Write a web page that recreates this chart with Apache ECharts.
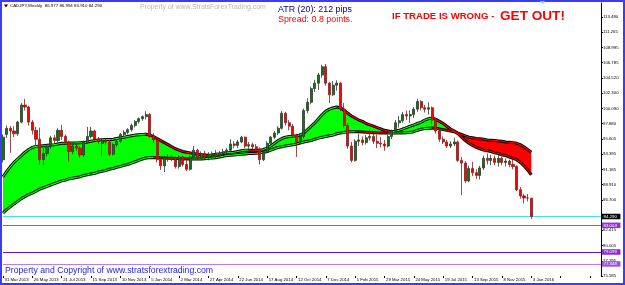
<!DOCTYPE html>
<html><head><meta charset="utf-8">
<script src="https://cdn.jsdelivr.net/npm/echarts@6/dist/echarts.min.js"></script>
<style>html,body{margin:0;padding:0;background:#fff}#c{width:625px;height:285px}</style>
</head><body><div id="c"></div>
<script>
const xTickLabels=['31 Mar 2013','26 May 2013','21 Jul 2013','15 Sep 2013','10 Nov 2013','5 Jan 2014','2 Mar 2014','27 Apr 2014','22 Jun 2014','17 Aug 2014','12 Oct 2014','7 Dec 2014','1 Feb 2015','29 Mar 2015','24 May 2015','19 Jul 2015','13 Sep 2015','8 Nov 2015','3 Jan 2016'];
const yTickLabels=['75.585','77.795','80.005','82.415','','86.700','88.910','91.185','93.395','95.605','97.880','100.090','102.300','104.520','106.785','108.995','111.265','113.480'];
const yMin=75.585, yMax=115.528, yStep=2.2291176;

const opens=[92.6,96.3,97.2,96.8,96.4,98.1,100.6,100.3,98.1,96.9,
95.6,92.6,93.5,94.6,95.8,95.4,96.9,96.0,95.1,93.8,
94.6,94.3,93.3,95.1,96.0,96.8,95.6,95.0,95.4,95.2,
93.4,94.8,95.3,96.3,96.6,97.0,97.6,98.2,98.6,98.9,
99.2,96.0,95.5,92.6,91.7,92.9,92.8,92.9,91.6,93.0,
91.9,91.2,93.0,94.0,92.9,93.5,93.0,93.3,93.4,93.2,
93.5,93.8,94.0,94.9,94.7,95.2,95.9,94.6,94.8,94.5,
94.2,92.6,93.7,95.0,95.9,96.5,97.2,99.4,98.0,97.5,
96.2,95.2,96.0,99.8,101.0,103.0,103.8,105.0,106.2,103.8,
102.1,103.5,103.8,100.0,97.6,94.6,92.5,95.3,95.5,95.1,
95.8,96.0,95.3,95.0,94.9,94.6,96.0,96.8,98.0,98.3,
99.2,99.0,99.2,100.0,101.1,100.2,100.0,100.2,98.4,96.8,
95.6,95.2,94.6,94.9,95.2,92.5,92.1,89.5,91.3,90.7,
90.3,91.4,92.8,92.5,92.8,92.2,92.8,92.2,92.4,91.9,
91.6,88.2,87.3,87.0,86.977];
const closes=[95.9,97.2,96.8,96.4,98.1,100.6,100.3,98.1,96.9,95.6,
92.6,93.5,94.6,95.8,95.4,96.9,96.0,95.1,93.8,94.6,
94.3,93.3,95.1,96.0,96.8,95.6,95.3,95.4,95.2,93.4,
94.8,95.3,96.3,96.6,97.0,97.6,98.2,98.6,98.9,99.2,
96.0,95.5,92.6,91.7,92.9,92.8,92.9,91.6,93.0,91.9,
91.2,93.0,94.0,92.9,93.5,93.0,93.3,93.4,93.2,93.5,
93.8,94.0,94.9,94.7,95.2,95.9,94.6,94.8,94.5,94.2,
92.6,93.7,95.0,95.9,96.5,97.2,99.4,98.0,97.5,96.2,
95.2,96.0,99.8,101.0,103.0,103.8,105.0,106.2,103.8,102.1,
103.5,103.8,100.0,97.6,94.6,92.5,95.3,95.5,95.1,95.8,
96.0,95.3,95.0,94.9,94.6,96.0,96.8,98.0,98.3,99.2,
99.0,99.2,100.0,101.1,100.2,100.0,100.2,98.4,96.8,95.6,
95.2,94.6,94.9,95.2,92.5,92.1,89.5,91.3,90.7,90.3,
91.4,92.8,92.5,92.8,92.2,92.8,92.2,92.4,91.9,91.6,
88.2,87.3,87.0,86.98,84.29];
const lows=[92.2,95.8,93.6,95.9,96.1,97.9,99.8,97.6,96.3,94.6,
91.9,91.8,93.1,94.2,95.0,95.1,95.5,94.9,92.3,93.4,
93.9,92.9,93.0,94.9,95.7,95.3,94.9,93.2,94.8,93.1,
93.2,94.5,95.1,96.0,96.3,96.7,97.3,97.9,98.3,98.5,
95.8,95.0,92.2,91.1,90.8,92.3,92.4,91.3,91.3,91.6,
90.9,91.0,92.8,92.6,92.7,92.7,92.5,92.9,92.8,92.9,
93.2,93.4,93.7,94.3,94.3,95.0,94.3,94.2,94.1,93.9,
91.9,92.4,93.5,94.8,95.6,96.2,97.0,97.6,96.9,95.9,
93.0,94.9,95.7,99.4,100.7,102.5,102.8,104.6,103.4,100.9,
101.9,102.7,99.7,97.3,94.2,92.2,92.3,94.6,94.7,94.8,
95.4,94.9,94.3,94.4,93.9,94.4,95.6,96.6,97.3,98.0,
98.4,98.0,98.7,99.6,99.8,99.5,99.2,97.8,96.4,95.2,
94.9,94.3,94.3,94.6,92.3,87.4,89.2,89.3,90.2,89.8,
89.7,91.1,91.9,91.8,91.8,91.6,91.8,91.6,91.5,91.2,
88.0,86.9,86.2,86.5,83.91];
const highs=[96.3,97.6,97.5,97.5,98.3,100.9,101.5,100.5,98.4,97.4,
97.3,94.3,94.9,96.1,96.2,97.2,97.7,96.3,95.4,95.0,
95.0,94.6,95.4,97.4,97.4,97.0,95.9,95.7,95.7,95.5,
95.0,95.6,96.5,96.9,97.2,97.9,98.4,98.8,99.1,99.7,
99.4,96.5,95.7,92.9,93.2,93.4,93.3,93.1,93.3,93.2,
92.5,93.2,94.6,94.2,93.8,93.9,93.7,93.8,94.0,93.9,
94.2,94.3,95.6,95.3,95.5,96.1,96.0,95.2,95.1,94.9,
94.4,94.0,95.3,96.1,96.8,97.5,99.7,99.6,98.4,97.8,
96.4,96.5,100.1,101.6,103.3,104.3,105.3,106.5,106.6,104.0,
104.1,104.2,104.0,100.9,98.0,95.2,95.6,96.4,96.0,96.2,
97.0,96.4,96.3,95.9,95.5,96.3,97.0,98.4,99.0,99.6,
99.8,99.8,100.3,101.5,101.3,100.6,101.0,100.4,98.7,97.1,
96.0,95.5,95.3,95.8,95.4,93.0,92.4,91.7,92.3,91.2,
91.7,93.2,93.5,93.3,93.2,93.3,93.0,92.8,92.6,92.7,
91.8,88.6,87.6,87.6,86.994];

const fastLine=[90.1,90.9,91.6,92.2,92.7,93.2,93.7,94.1,94.4,94.55,
94.6,94.65,94.7,94.75,94.8,94.9,95.0,95.02,95.04,95.05,
95.06,95.08,95.1,95.2,95.3,95.4,95.5,95.52,95.54,95.56,
95.6,95.7,95.8,95.9,96.0,96.1,96.2,96.25,96.3,96.32,
96.2,96.0,95.7,95.4,95.1,94.8,94.5,94.2,94.0,93.8,
93.7,93.6,93.5,93.4,93.3,93.28,93.26,93.3,93.4,93.45,
93.5,93.6,93.65,93.7,93.8,93.9,94.0,94.0,93.98,93.96,
93.95,94.1,94.3,94.6,95.0,95.4,95.7,95.9,96.0,96.05,
96.1,96.2,96.5,97.0,97.5,98.0,98.6,99.2,99.7,100.0,
100.2,100.3,100.2,99.8,99.4,99.0,98.7,98.4,98.2,97.9,
97.7,97.5,97.3,97.1,96.9,96.8,96.7,96.8,96.9,97.1,
97.3,97.5,97.7,97.9,98.1,98.4,98.6,98.7,98.5,98.2,
97.9,97.5,97.1,96.8,96.4,95.9,95.4,95.0,94.7,94.4,
94.2,94.0,93.9,93.8,93.6,93.5,93.3,93.2,93.0,92.8,
92.6,92.2,91.7,91.1,90.4];
const slowLine=[84.8,85.3,85.7,86.1,86.5,86.9,87.2,87.5,87.7,88.0,
88.3,88.5,88.7,88.9,89.1,89.3,89.5,89.6,89.8,89.9,
90.0,90.1,90.3,90.4,90.5,90.6,90.8,90.9,91.0,91.2,
91.3,91.5,91.6,91.8,91.9,92.1,92.3,92.5,92.7,92.85,
92.9,92.9,92.88,92.86,92.84,92.82,92.8,92.78,92.76,92.74,
92.72,92.7,92.7,92.7,92.7,92.75,92.8,92.85,92.9,93.0,
93.1,93.2,93.25,93.3,93.35,93.4,93.45,93.5,93.5,93.55,
93.6,93.7,93.8,94.0,94.2,94.4,94.5,94.6,94.7,94.8,
94.9,95.05,95.2,95.3,95.4,95.6,95.75,95.9,96.0,96.1,
96.2,96.4,96.5,96.6,96.65,96.7,96.7,96.68,96.65,96.62,
96.58,96.55,96.53,96.52,96.51,96.5,96.5,96.5,96.5,96.52,
96.55,96.6,96.7,96.9,97.05,97.15,97.2,97.25,97.2,97.1,
97.0,96.9,96.8,96.7,96.5,96.3,96.1,95.9,95.8,95.7,
95.65,95.6,95.5,95.45,95.4,95.35,95.3,95.2,95.15,95.1,
95.0,94.8,94.5,94.1,93.7];

const levelValues=[84.29,83.004,79.099,77.348];
const levelTexts=['84.290','83.004','79.099','77.348'];
const levelLineColors=['#3fe3ff','#c23ddc','#6a18b8','#c27ae6'];
const levelBoxColors=['#000000','#9a30d0','#8a28d8','#a050e0'];

const NCAT=164;
const categories=[];
const t0=Date.UTC(2013,2,31);
for(let i=0;i<NCAT;i++){categories.push(new Date(t0+i*7*864e5).toISOString().slice(0,10));}

const candleData=opens.map((o,i)=>[o,closes[i],lows[i],highs[i]]);
const bandBase=fastLine.map((a,i)=>Math.min(a,slowLine[i]));
const bandGreen=fastLine.map((a,i)=>a>slowLine[i]?a-slowLine[i]:0);
const bandRed=fastLine.map((a,i)=>slowLine[i]>a?slowLine[i]-a:0);

function slopeRuns(arr,name){
  const out=[];let start=0;let dir=arr[1]>=arr[0];
  for(let i=1;i<arr.length;i++){
    const d=(i<arr.length-1)?(arr[i+1]>=arr[i]):null;
    if(i===arr.length-1||d!==dir){
      const data=arr.map((v,k)=>(k>=start&&k<=i)?v:null);
      out.push({type:'line',name:name,data:data,symbol:'none',silent:true,z:4,
        lineStyle:{color:dir?'#00ff00':'#ff0000',width:1.1},connectNulls:false});
      start=i;dir=d;
    }
  }
  return out;
}

const font='Liberation Sans, Arial, sans-serif';
const chart=echarts.init(document.getElementById('c'),null,{renderer:'canvas'});
const series=[
  {type:'line',data:bandBase,stack:'band',symbol:'none',silent:true,lineStyle:{opacity:0},z:1},
  {type:'line',data:bandGreen,stack:'band',symbol:'none',silent:true,lineStyle:{opacity:0},areaStyle:{color:'#00ff00',opacity:1},z:1},
  {type:'line',data:bandRed,stack:'band',symbol:'none',silent:true,lineStyle:{opacity:0},areaStyle:{color:'#ff0000',opacity:1},z:1},
  {type:'line',data:fastLine,symbol:'none',silent:true,lineStyle:{color:'#000',width:3},z:3},
  {type:'line',data:slowLine,symbol:'none',silent:true,lineStyle:{color:'#000',width:3},z:3},
  ...slopeRuns(fastLine,'fastC'),
  ...slopeRuns(slowLine,'slowC'),
  {type:'candlestick',data:candleData,barWidth:2.6,z:6,
   itemStyle:{color:'#137313',color0:'#ff0000',borderColor:'#2a3a2a',borderColor0:'#8a1a1a',borderWidth:0.8},
   markLine:{silent:true,symbol:'none',animation:false,
     data:levelValues.map((v,i)=>({yAxis:v,lineStyle:{color:levelLineColors[i],width:1,type:'solid'},
       label:{show:true,position:'end',distance:1,formatter:levelTexts[i],color:'#fff',backgroundColor:levelBoxColors[i],
         fontSize:4.4,fontFamily:font,padding:[1,3.5,0.5,1.5]}}))}}
];
chart.setOption({
  animation:false,
  backgroundColor:'#ffffff',
  grid:{left:3,right:24,top:3,bottom:9,show:false},
  xAxis:{type:'category',data:categories,boundaryGap:false,
    axisLine:{show:false},
    axisTick:{show:true,interval:7,length:2,lineStyle:{color:'#000'}},
    axisLabel:{interval:7,fontSize:4.3,fontFamily:font,color:'#000',align:'left',margin:2,padding:[0,0,0,1.5],
      formatter:(v,idx)=>xTickLabels[idx/8]||''},
    splitLine:{show:false}},
  yAxis:{type:'value',position:'right',min:yMin,max:yMax,interval:yStep,scale:true,
    axisLine:{show:true,lineStyle:{color:'#000',width:1}},
    axisTick:{show:true,length:2,lineStyle:{color:'#000'}},
    axisLabel:{fontSize:4.3,fontFamily:font,color:'#000',margin:2,showMaxLabel:false,
      formatter:(v)=>{const k=Math.round((v-yMin)/yStep);return yTickLabels[k]||'';}},
    splitLine:{show:false}},
  series:series,
  graphic:[
    {type:'rect',shape:{x:1,y:1,width:623,height:283},style:{fill:'none',stroke:'#3c3cf0',lineWidth:2},silent:true,z:100},
    {type:'polygon',shape:{points:[[4,4.5],[8,4.5],[6,7.5]]},style:{fill:'#000'},silent:true},
    {type:'polygon',shape:{points:[[540,1],[545,1],[542.5,4]]},style:{fill:'#40e0ff'},silent:true,z:101},
    {type:'text',style:{x:10,y:6,text:'CADJPY,Weekly  86.977 86.994 83.910 84.290',fill:'#000',fontSize:4.4,fontFamily:font,verticalAlign:'middle'},silent:true},
    {type:'text',style:{x:140,y:7,text:'Property of www.StratsForexTrading.com',fill:'#b8b8b8',fontSize:6.9,fontFamily:font,verticalAlign:'middle'},silent:true},
    {type:'text',style:{x:278,y:10,text:'ATR (20): 212 pips',fill:'#000090',fontSize:8.9,fontFamily:font,verticalAlign:'middle'},silent:true},
    {type:'text',style:{x:278,y:20,text:'Spread: 0.8 points.',fill:'#ff0000',fontSize:8.9,fontFamily:font,verticalAlign:'middle'},silent:true},
    {type:'text',style:{x:392,y:16,text:'IF TRADE IS WRONG - ',fill:'#ff0000',fontSize:9.6,fontWeight:'bold',fontFamily:font,verticalAlign:'middle'},silent:true},
    {type:'text',style:{x:500,y:16,text:'GET OUT!',fill:'#ff0000',fontSize:13.6,fontWeight:'bold',fontFamily:font,verticalAlign:'middle'},silent:true},
    {type:'text',style:{x:5,y:271,text:'Property and Copyright of www.stratsforextrading.com',fill:'#1f1fe6',fontSize:8.7,fontFamily:font,verticalAlign:'middle'},silent:true}
  ]
});
</script></body></html>
